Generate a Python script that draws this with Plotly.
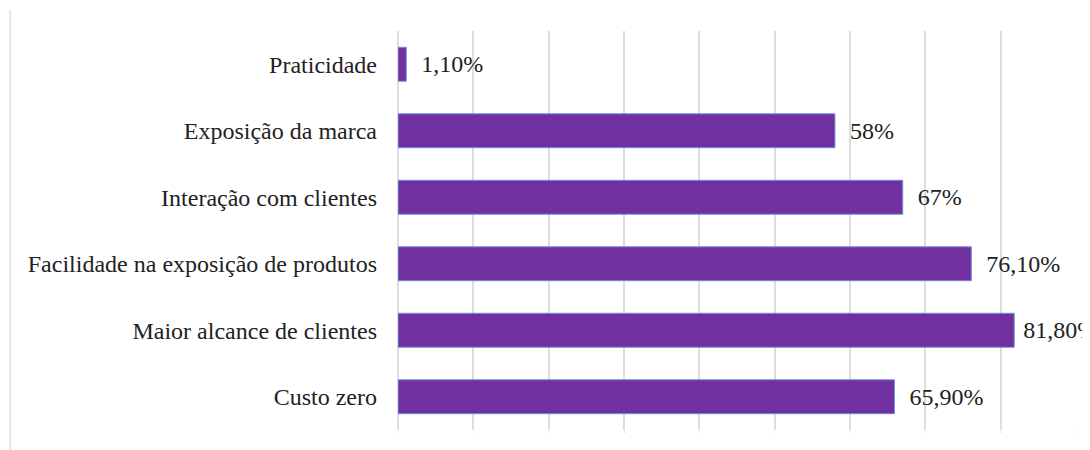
import plotly.graph_objects as go

categories = ["Custo zero", "Maior alcance de clientes", "Facilidade na exposição de produtos",
              "Interação com clientes", "Exposição da marca", "Praticidade"]
values = [65.9, 81.8, 76.1, 67, 58, 1.1]
labels = ["65,90%", "81,80%", "76,10%", "67%", "58%", "1,10%"]

FONT = "Liberation Serif"

# label offset from bar end (the longest label sits closer to its bar, as in the reference)
pads = ["  ", " ", "  ", "  ", "  ", "  "]
bar_text = [p + t for p, t in zip(pads, labels)]

fig = go.Figure(go.Bar(
    y=categories, x=values, orientation="h",
    marker=dict(color="#7030A0", line=dict(color="#6F8FD8", width=1)),
    text=bar_text, textposition="outside", cliponaxis=False,
    textfont=dict(family=FONT, size=24, color="#222222"),
    hoverinfo="skip",
))

fig.update_layout(
    width=1090, height=442,
    margin=dict(l=390, r=22, t=23, b=20),
    paper_bgcolor="white", plot_bgcolor="white",
    bargap=0.49, showlegend=False,
    font=dict(family=FONT, size=24, color="#222222"),
    xaxis=dict(range=[0, 90], dtick=10, showticklabels=False, showgrid=True,
               gridcolor="#DDDDDD", gridwidth=1.5, zeroline=True, zerolinecolor="#DDDDDD",
               zerolinewidth=1.5, ticks="outside", ticklen=2, tickcolor="#DDDDDD", showline=False),
    yaxis=dict(showgrid=False, zeroline=False, ticklabelstandoff=20, ticks="",
               tickfont=dict(family=FONT, size=24, color="#222222")),
    shapes=[dict(type="line", xref="paper", yref="paper", x0=-0.572, x1=-0.572, y0=-0.06, y1=1.052,
                 line=dict(color="#E6E6E6", width=2))],
)

fig.write_html("out.html")
